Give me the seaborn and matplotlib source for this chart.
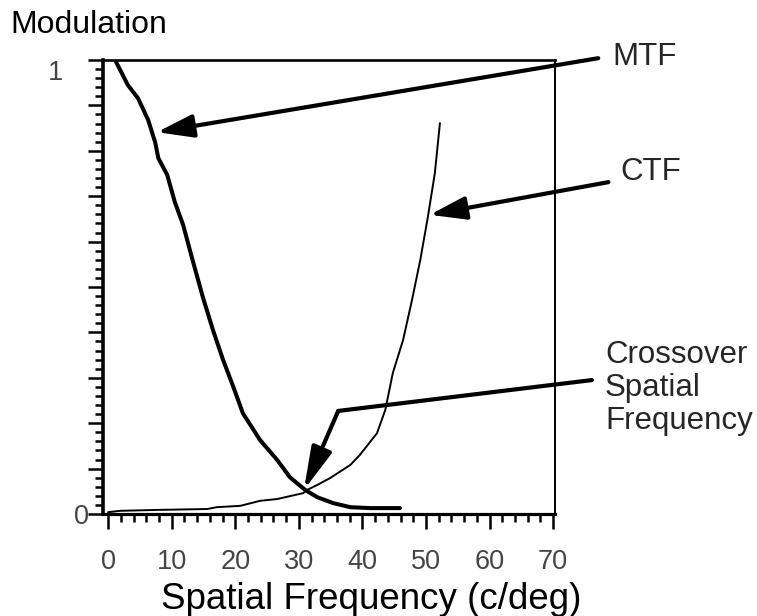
import numpy as np
import pandas as pd
import matplotlib
matplotlib.use("Agg")
import matplotlib.pyplot as plt
from matplotlib.ticker import MultipleLocator, FuncFormatter
from matplotlib.transforms import ScaledTranslation
import seaborn as sns

# ---- data ----
mtf_freq = [1.1, 3.1, 4.7, 6.3, 7.4, 7.9, 9.3, 10.5, 11.8, 13.2, 14.9, 16.5, 18.1,
            19.7, 21.2, 23.9, 26.6, 28.6, 31.0, 32.9, 35.4, 38.1, 41.2, 45.9]
mtf_mod = [1.0, 0.945, 0.916, 0.868, 0.819, 0.784, 0.747, 0.687, 0.637, 0.564, 0.478,
           0.405, 0.339, 0.280, 0.222, 0.163, 0.119, 0.081, 0.053, 0.037, 0.024,
           0.015, 0.013, 0.013]
ctf_freq = [0.0, 1.9, 7.7, 15.6, 17.1, 20.8, 23.9, 26.6, 30.7, 31.3, 32.9, 34.9, 38.1,
            39.6, 42.3, 43.6, 44.8, 46.4, 47.8, 49.1, 50.3, 51.4, 52.2]
ctf_mod = [0.004, 0.007, 0.009, 0.011, 0.015, 0.018, 0.029, 0.033, 0.046, 0.053, 0.064,
           0.079, 0.108, 0.130, 0.178, 0.229, 0.311, 0.383, 0.471, 0.559, 0.654,
           0.751, 0.861]
x_ticks = [0, 10, 20, 30, 40, 50, 60, 70]
y_labels = {0: "0", 1: "1"}

mtf_df = pd.DataFrame({"freq": mtf_freq, "mod": mtf_mod})
ctf_df = pd.DataFrame({"freq": ctf_freq, "mod": ctf_mod})

sns.set_theme(style="white")
plt.rcParams["font.family"] = ["Liberation Sans", "DejaVu Sans"]

fig = plt.figure(figsize=(7.57, 6.16), dpi=100)
ax = fig.add_axes([103 / 757, 1 - 514 / 616, 452 / 757, 454 / 616])

sns.lineplot(data=ctf_df, x="freq", y="mod", ax=ax, color="black", lw=1.4,
             sort=False, zorder=1)
sns.lineplot(data=mtf_df, x="freq", y="mod", ax=ax, color="black", lw=2.9,
             sort=False, zorder=4)

ax.set_xlim(-0.8, 70.3)
ax.set_ylim(0, 1.0)

ax.xaxis.set_major_locator(MultipleLocator(10))
ax.xaxis.set_minor_locator(MultipleLocator(2))
ax.yaxis.set_major_locator(MultipleLocator(0.1))
ax.yaxis.set_minor_locator(MultipleLocator(0.02))
ax.set_xticks(x_ticks)


def yfmt(v, pos):
    for k, s in y_labels.items():
        if abs(v - k) < 1e-6:
            return s
    return ""


ax.yaxis.set_major_formatter(FuncFormatter(yfmt))

ax.tick_params(axis="both", which="major", direction="out", length=10.5, width=1.8,
               color="black", labelsize=19.5, labelcolor="#444444")
ax.tick_params(axis="both", which="minor", direction="out", length=5.5, width=1.8,
               color="black")
ax.tick_params(axis="x", which="major", pad=15)
ax.tick_params(axis="y", which="major", pad=6)
ax.tick_params(left=True, bottom=True, which="both")

for side, w in {"left": 2.6, "bottom": 2.3, "top": 1.9, "right": 1.4}.items():
    ax.spines[side].set_visible(True)
    ax.spines[side].set_color("black")
    ax.spines[side].set_linewidth(w)

ax.set_xlabel("Spatial Frequency (c/deg)", fontsize=26.5, color="black")
ax.xaxis.set_label_coords(0.593, -0.189)
ax.xaxis.label.set_va("center")
ax.set_ylabel("Modulation", fontsize=23, rotation=0, color="black", ha="left", va="center")
ax.yaxis.set_label_coords(-0.206, 1.077)

head = "-|>,head_length=1.1,head_width=0.35"
common = dict(lw=3, shrinkA=0, shrinkB=0, mutation_scale=20)

# MTF arrow
ax.annotate("", xy=(7.7, 0.841), xytext=(77.1, 1.004), xycoords="data",
            arrowprops=dict(arrowstyle=head, color="black", **common),
            annotation_clip=False)
# CTF arrow
ax.annotate("", xy=(50.6, 0.659), xytext=(78.7, 0.731), xycoords="data",
            arrowprops=dict(arrowstyle=head, color="black", **common),
            annotation_clip=False)
# Crossover arrow (two segments)
ax.annotate("", xy=(36.2, 0.227), xytext=(76.1, 0.295), xycoords="data",
            arrowprops=dict(arrowstyle="-", color="black", **common),
            annotation_clip=False)
xhead = "-|>,head_length=1.3,head_width=0.32"
halo = dict(common)
halo["lw"] = 7
ax.annotate("", xy=(30.8, 0.053), xytext=(36.2, 0.227), xycoords="data",
            arrowprops=dict(arrowstyle=xhead, color="white", **halo),
            annotation_clip=False, zorder=1.5)
ax.annotate("", xy=(30.8, 0.053), xytext=(36.2, 0.227), xycoords="data",
            arrowprops=dict(arrowstyle=xhead, color="black", **common),
            annotation_clip=False, zorder=2)

fig.text(612 / 757, 1 - 57 / 616, "MTF", fontsize=22.5, ha="left", va="center")
fig.text(620 / 757, 1 - 172 / 616, "CTF", fontsize=22.5, ha="left", va="center")
fig.text(605 / 757, 1 - 388 / 616, "Crossover\nSpatial\nFrequency", fontsize=22.5,
         ha="left", va="center", linespacing=1.13)

fig.canvas.draw()
shifts = {"1": (-17, -10), "0": (9, 0)}
for lab in ax.yaxis.get_majorticklabels():
    t = lab.get_text()
    if t in shifts:
        dx, dy = shifts[t]
        lab.set_transform(lab.get_transform() +
                          ScaledTranslation(dx / 100, dy / 100, fig.dpi_scale_trans))

fig.savefig("out.png", dpi=100)
